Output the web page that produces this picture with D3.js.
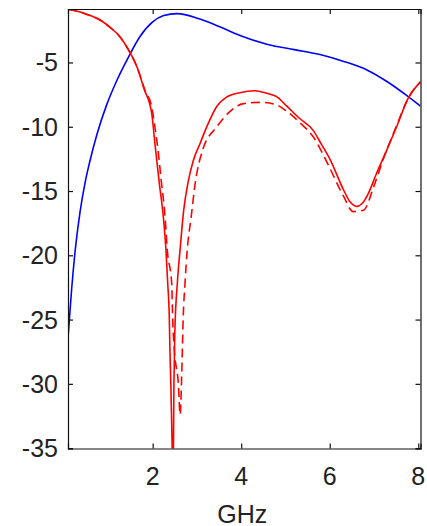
<!DOCTYPE html>
<html>
<head>
<meta charset="utf-8">
<script src="https://cdn.jsdelivr.net/npm/d3@7"></script>
<style>
	html, body { margin: 0; padding: 0; background: #fff; }
	svg { display: block; }
	.tick-label { font-family: "Liberation Sans", Arial, sans-serif; font-size: 25px; fill: #222; }
</style>
</head>
<body>
<div id="chart"></div>
<script>
(function () {

	'use strict';

	// tick values / labels
	const xTicks = [2, 4, 6, 8];
	const yTicks = [-5, -10, -15, -20, -25, -30, -35];
	const xLabel = 'GHz';

	// blue curve (solid)
	const blueFreq = [0.09, 0.17, 0.25, 0.36, 0.47, 0.58, 0.74, 0.96, 1.19, 1.45, 1.71, 2.0, 2.25, 2.55, 3.05, 3.5, 4.05, 4.6, 5.2, 5.8, 6.3, 6.85, 7.3, 7.75, 8.05];
	const blueDb = [-26.3, -22.6, -19.6, -16.6, -14.4, -12.7, -10.6, -8.3, -6.4, -4.6, -3.0, -1.85, -1.35, -1.2, -1.6, -2.2, -3.0, -3.6, -4.0, -4.4, -4.9, -5.6, -6.5, -7.6, -8.4];

	// red curve (solid)
	const redFreq = [0.09, 0.28, 0.55, 0.81, 1.05, 1.26, 1.45, 1.64, 1.8, 1.98, 2.05, 2.15, 2.24, 2.3, 2.34, 2.375, 2.39, 2.41, 2.44, 2.46, 2.48, 2.5, 2.56, 2.62, 2.7, 2.8, 2.92, 3.07, 3.26, 3.45, 3.67, 3.97, 4.3, 4.58, 4.8, 5.03, 5.3, 5.63, 5.8, 6.0, 6.31, 6.45, 6.61, 6.75, 6.87, 7.06, 7.29, 7.51, 7.77, 8.05];
	const redDb = [-0.85, -1.0, -1.3, -1.7, -2.3, -3.0, -4.0, -5.3, -7.0, -9.0, -11.3, -14.4, -17.0, -19.6, -22.2, -24.8, -27.4, -30.0, -34.9, -38.0, -30.0, -26.0, -22.0, -19.5, -16.5, -14.3, -12.6, -11.3, -9.7, -8.4, -7.7, -7.35, -7.2, -7.4, -7.66, -8.4, -9.3, -10.3, -11.3, -12.5, -14.9, -15.8, -16.2, -15.9, -15.2, -13.6, -11.8, -10.0, -7.8, -6.5];

	// red curve (dashed)
	const redDashFreq = [0.09, 0.28, 0.55, 0.81, 1.05, 1.26, 1.45, 1.64, 1.83, 1.98, 2.05, 2.12, 2.2, 2.28, 2.33, 2.43, 2.45, 2.49, 2.58, 2.62, 2.65, 2.67, 2.69, 2.73, 2.78, 2.87, 2.96, 3.13, 3.45, 3.75, 4.05, 4.42, 4.8, 4.99, 5.33, 5.63, 5.97, 6.31, 6.53, 6.76, 6.99, 7.2, 7.5, 7.77, 8.05];
	const redDashDb = [-0.85, -1.0, -1.3, -1.7, -2.3, -3.0, -4.0, -5.3, -7.2, -8.5, -10.0, -11.8, -14.4, -17.0, -19.6, -22.2, -24.8, -27.4, -30.0, -32.4, -30.0, -27.4, -24.8, -22.2, -19.6, -17.0, -14.4, -11.8, -10.0, -8.8, -8.2, -8.1, -8.3, -8.7, -9.7, -10.8, -13.0, -15.4, -16.6, -16.5, -14.7, -12.6, -10.0, -7.8, -6.5];

	// ****************** layout ***************************
	const W = 427, H = 526;
	const margin = {top: 9, right: 6.5, bottom: 77.5, left: 68};
	const width = W - margin.left - margin.right;
	const height = H - margin.top - margin.bottom;
	const tickLen = 5;

	let svg = d3.select('#chart').append('svg')
		.attr('width', W)
		.attr('height', H);

	let g = svg.append('g')
		.attr('transform', 'translate(' + margin.left + ',' + margin.top + ')');

	let x = d3.scaleLinear().domain([0.087, 8.05]).range([0, width]);
	let y = d3.scaleLinear().domain([-35.03, -0.84]).range([height, 0]);

	g.append('clipPath').attr('id', 'plot-clip')
		.append('rect')
		.attr('width', width)
		.attr('height', height);

	// ****************** curves ***************************
	function toPoints(xs, ys) {
		return xs.map(function (f, i) { return [f, ys[i]]; });
	}

	let line = d3.line()
		.x(function (d) { return x(d[0]); })
		.y(function (d) { return y(d[1]); })
		.curve(d3.curveMonotoneX);

	let series = [
		{pts: toPoints(blueFreq, blueDb), color: '#0000ff', dash: null},
		{pts: toPoints(redDashFreq, redDashDb), color: '#ff0000', dash: '9,5'},
		{pts: toPoints(redFreq, redDb), color: '#ff0000', dash: null}
	];

	let plot = g.append('g').attr('clip-path', 'url(#plot-clip)');

	plot.selectAll('path.curve')
		.data(series)
		.enter().append('path')
		.attr('class', 'curve')
		.attr('d', function (d) { return line(d.pts); })
		.attr('fill', 'none')
		.attr('stroke', function (d) { return d.color; })
		.attr('stroke-width', 1.6)
		.attr('stroke-dasharray', function (d) { return d.dash; });

	// ****************** axes (boxed, ticks inward) ***************************
	let axisBottom = d3.axisBottom(x).tickValues(xTicks).tickSize(-tickLen).tickFormat('');
	let axisTop = d3.axisTop(x).tickValues(xTicks).tickSize(-tickLen).tickFormat('');
	let axisLeft = d3.axisLeft(y).tickValues(yTicks).tickSize(-tickLen).tickFormat('');
	let axisRight = d3.axisRight(y).tickValues(yTicks).tickSize(-tickLen).tickFormat('');

	g.append('g').attr('transform', 'translate(0,' + height + ')').call(axisBottom);
	g.append('g').call(axisTop);
	g.append('g').call(axisLeft);
	g.append('g').attr('transform', 'translate(' + width + ',0)').call(axisRight);

	g.selectAll('.domain').attr('stroke', '#111').attr('stroke-width', 1.2);
	g.selectAll('.tick line').attr('stroke', '#111').attr('stroke-width', 1.2);

	// tick labels
	g.selectAll('text.xlab')
		.data(xTicks)
		.enter().append('text')
		.attr('class', 'tick-label xlab')
		.attr('x', function (d) { return x(d); })
		.attr('y', height + 36)
		.attr('text-anchor', 'middle')
		.text(function (d) { return d; });

	g.selectAll('text.ylab')
		.data(yTicks)
		.enter().append('text')
		.attr('class', 'tick-label ylab')
		.attr('x', -10)
		.attr('y', function (d) { return y(d); })
		.attr('dy', '0.36em')
		.attr('text-anchor', 'end')
		.text(function (d) { return d; });

	g.append('text')
		.attr('class', 'tick-label')
		.attr('x', width / 2 - 2)
		.attr('y', height + 74)
		.attr('text-anchor', 'middle')
		.text(xLabel);

})();
</script>
</body>
</html>
